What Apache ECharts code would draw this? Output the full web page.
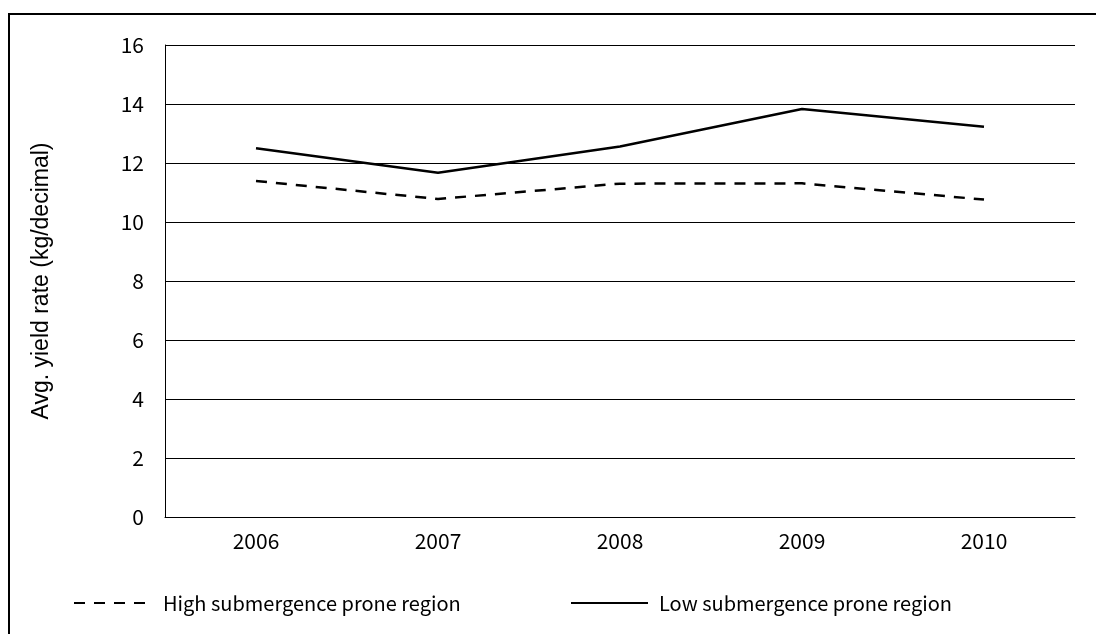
<!DOCTYPE html>
<html>
<head>
<meta charset="utf-8">
<script src="https://cdn.jsdelivr.net/npm/echarts@6/dist/echarts.min.js"></script>
<style>
html,body{margin:0;padding:0;background:#fff;}
#chart{width:1096px;height:634px;}
</style>
</head>
<body>
<div id="chart"></div>
<script>
const years = ['2006', '2007', '2008', '2009', '2010'];
const highRegion = [11.39, 10.78, 11.30, 11.31, 10.76];
const lowRegion = [12.50, 11.67, 12.56, 13.83, 13.23];
const yTicks = { min: 0, max: 16, interval: 2 };
const seriesNames = ['High submergence prone region', 'Low submergence prone region'];
const yTitle = 'Avg. yield rate (kg/decimal)';

const tickFont = '"Noto Sans CJK KR", "Noto Sans", sans-serif';
const chart = echarts.init(document.getElementById('chart'), null, { renderer: 'canvas' });
const legendCommon = {
  padding: 0,
  top: 593,
  itemHeight: 2,
  itemStyle: { color: 'transparent', borderWidth: 0, opacity: 0 },
  textStyle: { fontFamily: tickFont, fontSize: 20, color: '#000', padding: [0, 0, 0, 4] }
};
chart.setOption({
  animation: false,
  backgroundColor: '#fff',
  graphic: [{
    type: 'rect',
    shape: { x: 9, y: 14, width: 1300, height: 1000 },
    style: { fill: 'none', stroke: '#000', lineWidth: 2 },
    silent: true
  }],
  grid: { left: 165, right: 21, top: 45, bottom: 117, containLabel: false },
  legend: [Object.assign({}, legendCommon, {
    data: [seriesNames[0]],
    left: 73,
    itemWidth: 80
  }), Object.assign({}, legendCommon, {
    data: [seriesNames[1]],
    left: 570,
    itemWidth: 77,
    textStyle: { fontFamily: tickFont, fontSize: 20, color: '#000', padding: [0, 0, 0, 6] }
  })],
  xAxis: {
    type: 'category',
    data: years,
    boundaryGap: true,
    axisLine: { show: true, lineStyle: { color: '#000', width: 1 } },
    axisTick: { show: false },
    axisLabel: { color: '#000', fontSize: 21, fontFamily: tickFont, margin: 14 }
  },
  yAxis: {
    type: 'value',
    min: yTicks.min, max: yTicks.max, interval: yTicks.interval,
    name: yTitle,
    nameLocation: 'middle',
    nameGap: 112,
    nameTextStyle: { fontFamily: '"Liberation Sans", Arial, sans-serif', fontSize: 23, color: '#000' },
    axisLine: { show: true, lineStyle: { color: '#000', width: 1 } },
    axisTick: { show: false },
    axisLabel: { color: '#000', fontSize: 21, fontFamily: tickFont, margin: 21 },
    splitLine: { show: true, lineStyle: { color: '#000', width: 1 } }
  },
  series: [{
    name: seriesNames[0],
    type: 'line',
    data: highRegion,
    symbol: 'none',
    lineStyle: { color: '#000', width: 2.5, type: [11, 9] },
    itemStyle: { color: '#000' }
  }, {
    name: seriesNames[1],
    type: 'line',
    data: lowRegion,
    symbol: 'none',
    lineStyle: { color: '#000', width: 2.5, type: 'solid' },
    itemStyle: { color: '#000' }
  }]
});
</script>
</body>
</html>
